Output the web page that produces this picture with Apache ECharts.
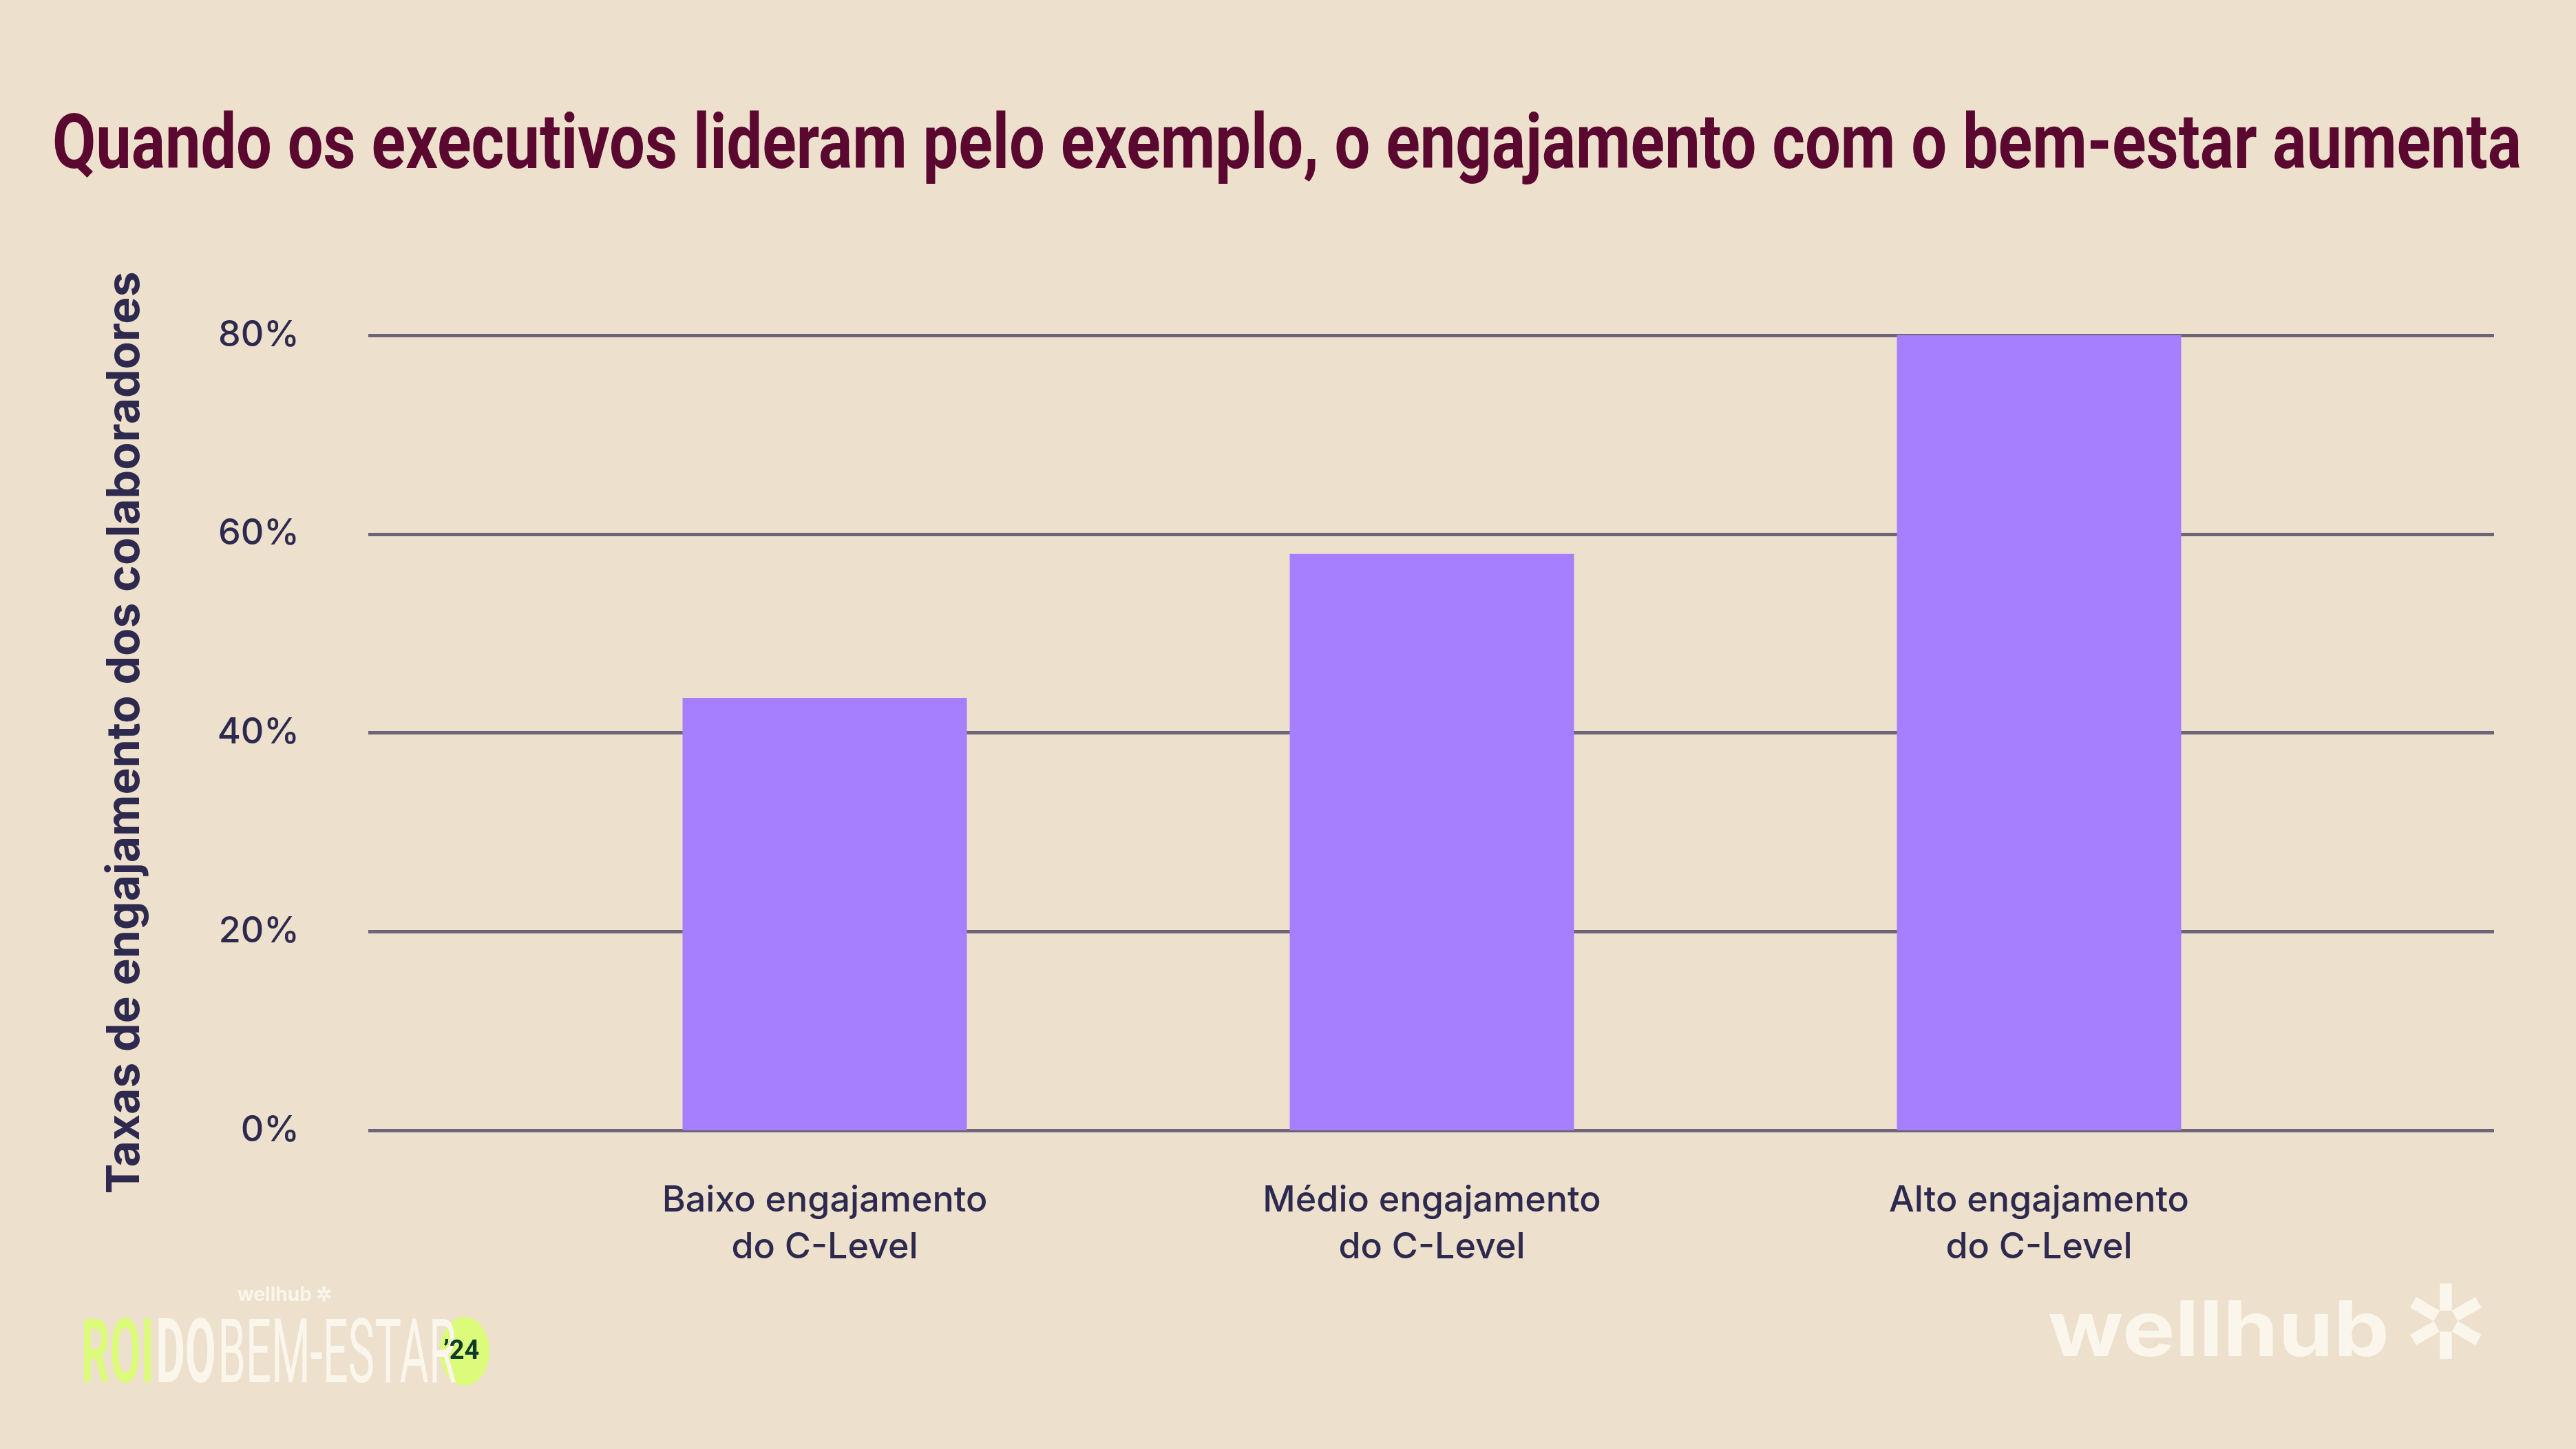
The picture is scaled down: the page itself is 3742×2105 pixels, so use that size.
<!DOCTYPE html>
<html>
<head>
<meta charset="utf-8">
<script src="https://cdn.jsdelivr.net/npm/echarts@6/dist/echarts.min.js"></script>
<style>
  html, body { margin: 0; padding: 0; background: #ede0cc; }
  #main { width: 3742px; height: 2105px; }
</style>
</head>
<body>
<div id="main"></div>
<script>
var categories = ['Baixo engajamento\ndo C-Level', 'Médio engajamento\ndo C-Level', 'Alto engajamento\ndo C-Level'];
var values = [43.5, 58, 80];
var yTicks = [0, 20, 40, 60, 80];

var myChart = echarts.init(document.getElementById('main'));
var axisColor = '#2e2a4f';
var gridColor = '#6e6678';

option = {
    backgroundColor: '#ede0cc',
    grid: [
        { left: 535, right: 119, top: 487, bottom: 463 },
        { left: 757, right: 339, top: 487, bottom: 463 }
    ],
    xAxis: [
        { type: 'category', gridIndex: 0, data: [''], show: false },
        {
            type: 'category',
            gridIndex: 1,
            data: categories,
            axisLine: { show: false },
            axisTick: { show: false },
            axisLabel: {
                margin: 68,
                fontFamily: 'Inter',
                fontWeight: 500,
                fontSize: 52,
                lineHeight: 68,
                color: axisColor
            }
        }
    ],
    yAxis: [
        {
            type: 'value',
            gridIndex: 0,
            min: yTicks[0],
            max: yTicks[yTicks.length - 1],
            interval: 20,
            name: 'Taxas de engajamento dos colaboradores',
            nameLocation: 'middle',
            nameGap: 320,
            nameTextStyle: {
                fontFamily: 'Inter',
                fontWeight: 'bold',
                fontSize: 66,
                color: axisColor
            },
            axisLine: { show: false },
            axisTick: { show: false },
            axisLabel: {
                margin: 100,
                fontFamily: 'Inter',
                fontWeight: 500,
                fontSize: 52,
                color: axisColor,
                formatter: '{value}%'
            },
            splitLine: {
                lineStyle: { color: gridColor, width: 5 }
            }
        },
        {
            type: 'value',
            gridIndex: 1,
            min: yTicks[0],
            max: yTicks[yTicks.length - 1],
            interval: 20,
            show: false
        }
    ],
    series: [
        {
            type: 'bar',
            xAxisIndex: 1,
            yAxisIndex: 1,
            data: values,
            barWidth: 413,
            itemStyle: { color: '#a67fff' }
        }
    ],
    graphic: [
        {
            type: 'text', x: 76, y: 160, scaleX: 0.82,
            style: {
                text: 'Quando os executivos lideram pelo exemplo, o engajamento com o bem-estar aumenta',
                font: 'bold 112px Roboto', fill: '#5a0830'
            }
        },
        {
            type: 'text', x: 345, y: 1868,
            style: { text: 'wellhub ✲', font: 'bold 28px Inter', fill: '#faf6ec' }
        },
        {
            type: 'text', x: 118, y: 1910, scaleX: 0.5,
            style: {
                text: '{a|ROI}\u2002{b|DO}\u2002{c|BEM-ESTAR}',
                rich: {
                    a: { fontFamily: 'Roboto', fontWeight: 'bold', fontSize: 130, fill: '#dcfb7a' },
                    b: { fontFamily: 'Roboto', fontWeight: 'bold', fontSize: 130, fill: '#faf6ec' },
                    c: { fontFamily: 'Roboto', fontSize: 130, fill: '#faf6ec' }
                }
            }
        },
        {
            type: 'ellipse', z: -1,
            shape: { cx: 675, cy: 1963, rx: 36, ry: 50 },
            style: { fill: '#dcfb7a' }
        },
        {
            type: 'text', x: 644, y: 1945,
            style: { text: '’24', font: 'bold 38px Roboto', fill: '#0e3a2c' }
        },
        {
            type: 'text', x: 2975, y: 1880, scaleX: 1.15,
            style: { text: 'wellhub', font: 'bold 112px Inter', fill: '#faf6ec' }
        },
        {
            type: 'text', x: 3490, y: 1860,
            style: { text: '✲', font: '150px "DejaVu Sans"', fill: '#faf6ec' }
        }
    ]
};

myChart.setOption(option);
</script>
</body>
</html>
